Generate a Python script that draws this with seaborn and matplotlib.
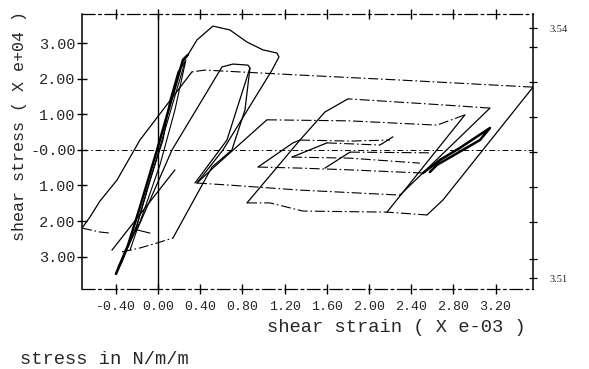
import matplotlib
matplotlib.use("Agg")
import matplotlib.pyplot as plt
import seaborn as sns

# ---------------- data (strain x1e-3, stress x1e4) ----------------
x_ticks = [-0.40, 0.00, 0.40, 0.80, 1.20, 1.60, 2.00, 2.40, 2.80, 3.20]
x_ticklabels = ["-0.40", "0.00", "0.40", "0.80", "1.20", "1.60", "2.00", "2.40", "2.80", "3.20"]
y_ticks = [3, 2, 1, 0, -1, -2, -3]
y_ticklabels = ["3.00", "2.00", "1.00", "-0.00", "1.00", "2.00", "3.00"]
right_ticks = [3.5400, 3.5377, 3.5335, 3.5293, 3.5251, 3.5209, 3.5167, 3.5123, 3.5100]
right_ticklabels = ["3.54", "", "", "", "", "", "", "", "3.51"]

# solid branches
peak_x = [0.237, 0.284, 0.370, 0.521, 0.682, 0.844, 0.995, 1.128, 1.147, 1.081, 0.616, 0.370]
peak_y = [2.48, 2.68, 3.10, 3.49, 3.38, 3.04, 2.82, 2.73, 2.62, 2.25, 0.00, -0.93]
outer_rise_x = [0.322, 0.047, -0.171, -0.389, -0.550, -0.645, -0.720]
outer_rise_y = [2.20, 1.13, 0.28, -0.85, -1.44, -1.89, -2.20]
right_up1_x = [2.294, 3.147]
right_up1_y = [-1.27, 1.18]
mid_diag_x = [1.801, 1.583, 1.346, 0.844]
mid_diag_y = [1.44, 1.07, 0.28, -1.49]
right_up2_x = [2.550, 2.701, 3.555]
right_up2_y = [-1.83, -1.41, 1.77]
bundle_x = [-0.398, -0.284, -0.171, -0.009, 0.114, 0.237, 0.284]
bundle_y = [-3.49, -2.68, -1.61, 0.00, 1.27, 2.54, 2.68]
bundle_back_x = [0.256, 0.190, 0.114, 0.047, -0.076, -0.199, -0.341, -0.398]
bundle_back_y = [2.48, 2.20, 1.41, 0.28, -0.85, -2.11, -3.15, -3.49]
bundle_mid_x = [-0.379, -0.171, 0.019, 0.161, 0.265]
bundle_mid_y = [-3.30, -2.03, -0.42, 1.13, 2.54]
loop2_x = [-0.199, 0.133, 0.607, 0.711, 0.853, 0.872, 0.654, 0.351]
loop2_y = [-2.25, 0.00, 2.34, 2.42, 2.39, 2.31, 0.28, -0.93]
loop3_x = [0.142, 0.512, 0.701, 0.825, 0.872]
loop3_y = [-2.48, -0.48, 0.00, 1.13, 2.31]
loop4_up_x = [0.370, 0.521, 1.033]
loop4_up_y = [-0.93, -0.51, 0.85]
loop4_down_x = [2.910, 2.171]
loop4_down_y = [0.99, -1.75]
stray1_x = [-0.436, 0.161]
stray1_y = [-2.82, -0.56]
stray2_x = [-0.218, 0.256]
stray2_y = [-2.31, 2.48]
stray3_x = [-0.265, -0.199, -0.076]
stray3_y = [-2.82, -2.25, -2.34]
box3_diag_x = [0.948, 1.280, 1.346]
box3_diag_y = [-0.48, 0.20, 0.28]
box4_diag_x = [1.270, 1.602]
box4_diag_y = [-0.20, 0.20]
box5_diag_x = [1.583, 1.820]
box5_diag_y = [-0.51, -0.06]
hook_x = [2.104, 2.227]
hook_y = [0.14, 0.37]
thick_x = [2.512, 2.673, 2.863, 3.147, 3.052, 2.645, 2.578]
thick_y = [-0.65, -0.28, 0.06, 0.62, 0.28, -0.42, -0.62]

# dash-dot (flow) branches
flow_top_x = [3.555, 2.294, 1.346, 0.445, 0.322]
flow_top_y = [1.77, 1.97, 2.11, 2.25, 2.20]
flow_b1_x = [0.370, 0.682, 1.346, 2.294]
flow_b1_y = [-0.93, -0.99, -1.13, -1.27]
flow_t1_x = [3.147, 2.701, 1.801]
flow_t1_y = [1.18, 1.27, 1.44]
flow_b2_x = [0.844, 1.062, 1.374, 2.171, 2.550]
flow_b2_y = [-1.49, -1.49, -1.72, -1.75, -1.83]
flow_left_x = [-0.720, -0.550, -0.455]
flow_left_y = [-2.20, -2.31, -2.34]
flow_bottom_x = [-0.341, -0.171, -0.009, 0.142]
flow_bottom_y = [-2.87, -2.76, -2.62, -2.48]
flow_t2_x = [1.033, 1.820, 2.645, 2.910]
flow_t2_y = [0.85, 0.82, 0.70, 0.99]
flow_t3_x = [1.346, 1.820, 2.199]
flow_t3_y = [0.28, 0.25, 0.28]
flow_b3_x = [0.948, 1.346, 1.820, 2.512]
flow_b3_y = [-0.48, -0.51, -0.56, -0.65]
flow_t4_x = [1.602, 2.104]
flow_t4_y = [0.20, 0.14]
flow_b4_x = [1.270, 1.820, 2.483]
flow_b4_y = [-0.20, -0.23, -0.37]
flow_t5_x = [1.820, 2.578]
flow_t5_y = [-0.06, -0.08]

solid_curves = [
    (peak_x, peak_y, 0.9), (outer_rise_x, outer_rise_y, 0.9),
    (right_up1_x, right_up1_y, 0.9), (mid_diag_x, mid_diag_y, 0.9),
    (right_up2_x, right_up2_y, 0.9), (bundle_x, bundle_y, 1.8),
    (bundle_back_x, bundle_back_y, 0.9), (bundle_mid_x, bundle_mid_y, 0.8),
    (loop2_x, loop2_y, 0.9),
    (loop3_x, loop3_y, 0.9), (loop4_up_x, loop4_up_y, 0.9),
    (loop4_down_x, loop4_down_y, 0.9), (stray1_x, stray1_y, 0.9),
    (stray2_x, stray2_y, 0.8), (stray3_x, stray3_y, 0.8),
    (box3_diag_x, box3_diag_y, 0.9),
    (box4_diag_x, box4_diag_y, 0.9), (box5_diag_x, box5_diag_y, 0.9),
    (hook_x, hook_y, 0.9), (thick_x, thick_y, 1.8),
]
flow_curves = [
    (flow_top_x, flow_top_y), (flow_b1_x, flow_b1_y), (flow_t1_x, flow_t1_y),
    (flow_b2_x, flow_b2_y), (flow_left_x, flow_left_y), (flow_bottom_x, flow_bottom_y),
    (flow_t2_x, flow_t2_y), (flow_t3_x, flow_t3_y), (flow_b3_x, flow_b3_y),
    (flow_t4_x, flow_t4_y), (flow_b4_x, flow_b4_y), (flow_t5_x, flow_t5_y),
]

# ---------------- figure ----------------
sns.set_style("white")
plt.rcParams["font.family"] = ["Liberation Mono", "DejaVu Sans"]

fig = plt.figure(figsize=(5.89, 3.69), dpi=100)
ax = fig.add_axes([82 / 589, 1 - 289 / 369, (533 - 82) / 589, (289 - 14) / 369])

dashdot = (0, (9, 2.5, 1.5, 2.5))
for xs, ys, lw in solid_curves:
    sns.lineplot(x=xs, y=ys, sort=False, estimator=None, ax=ax,
                 color="black", lw=lw, solid_capstyle="round")
for xs, ys in flow_curves:
    sns.lineplot(x=xs, y=ys, sort=False, estimator=None, ax=ax,
                 color="black", lw=0.8, linestyle=dashdot)

ax.axvline(0, color="black", lw=1.0)
ax.axhline(0, color="black", lw=0.7, linestyle=(0, (6, 3, 1.5, 3)))

ax.set_xlim(-0.72, 3.555)
ax.set_ylim(-3.915, 3.83)

ax.set_xticks(x_ticks)
ax.set_xticklabels(x_ticklabels, fontsize=9.6)
ax.set_yticks(y_ticks)
ax.set_yticklabels(y_ticklabels, fontsize=11)
ax.tick_params(axis="both", direction="inout", length=7, width=1.0, color="black")
ax.tick_params(axis="x", top=True, bottom=True, pad=5)
ax.tick_params(axis="y", left=True, right=False, pad=1)

ax.spines["left"].set_color("black")
ax.spines["left"].set_linewidth(1.1)
for side in ["top", "bottom"]:
    ax.spines[side].set_color("black")
    ax.spines[side].set_linewidth(0.9)
    ax.spines[side].set_linestyle((0, (10, 3, 2, 3)))
ax.spines["right"].set_visible(False)

ax2 = ax.twinx()
ax2.set_ylim(3.50868, 3.54168)
ax2.set_yticks(right_ticks)
ax2.set_yticklabels(right_ticklabels, fontsize=7.5, family="Liberation Serif")
ax2.tick_params(axis="y", direction="inout", length=6, width=0.9, pad=9, color="black")
for side in ["left", "top", "bottom"]:
    ax2.spines[side].set_visible(False)
ax2.spines["right"].set_color("black")
ax2.spines["right"].set_linewidth(1.1)
ax2.grid(False)
ax.grid(False)

fig.text(396 / 589, 1 - 328 / 369, "shear strain ( X e-03 )", ha="center", va="center",
         fontsize=13.5)
fig.text(20 / 589, 1 - 360 / 369, "stress in N/m/m", ha="left", va="center", fontsize=13.5)
fig.text(20 / 589, 1 - 126 / 369, "shear stress ( X e+04 )", ha="center", va="center",
         rotation=90, fontsize=12)

fig.savefig("out.png", dpi=100, facecolor="white")
